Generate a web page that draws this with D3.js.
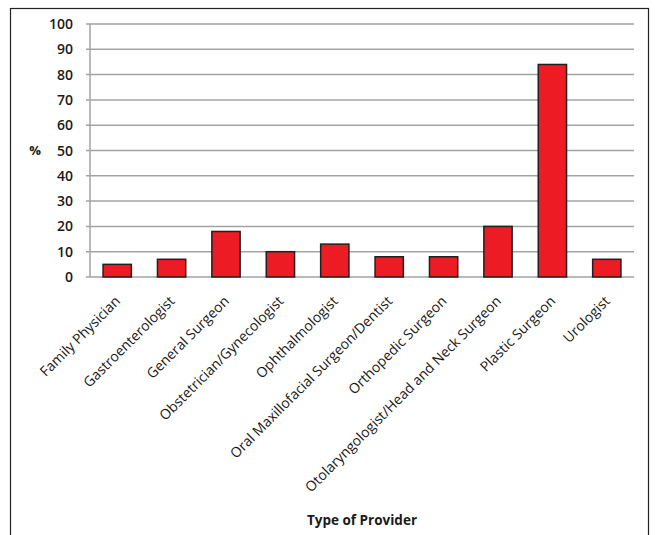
<!DOCTYPE html>
<html>
<head>
<meta charset="utf-8">
<script src="https://cdn.jsdelivr.net/npm/d3@7"></script>
<style>
  body { margin: 0; background: #fff; }
  text { font-family: "Open Sans", "Noto Sans", sans-serif; fill: #1a1a1a; }
</style>
</head>
<body>
<div id="container"></div>
<script>
// provider types and share (%)
var providers = ["Family Physician", "Gastroenterologist", "General Surgeon",
    "Obstetrician/Gynecologist", "Ophthalmologist", "Oral Maxillofacial Surgeon/Dentist",
    "Orthopedic Surgeon", "Otolaryngologist/Head and Neck Surgeon", "Plastic Surgeon", "Urologist"];
var percents = [5, 7, 18, 10, 13, 8, 8, 20, 84, 7];
var yTicks = [0, 10, 20, 30, 40, 50, 60, 70, 80, 90, 100];

var svg_width = 655,
    svg_height = 535;

// plot box (not "top": that name is taken by window.top)
var plot_left = 90, plot_right = 634, plot_top = 24, plot_bottom = 277;

var svg = d3.select("#container").append("svg")
    .attr("width", svg_width)
    .attr("height", svg_height)

// outer frame
svg.append("rect")
    .attr("x", 10.5).attr("y", 8.5)
    .attr("width", 638).attr("height", 540)
    .style("fill", "none")
    .style("stroke", "#222")
    .style("stroke-width", 1.2)

var x = d3.scaleBand()
    .domain(providers)
    .range([plot_left, plot_right])
    .paddingInner(0.48)
    .paddingOuter(0.24)

var y = d3.scaleLinear()
    .domain([0, 100])
    .range([plot_bottom, plot_top])

// gridlines
svg.append("g")
    .selectAll("line")
    .data(yTicks)
    .enter().append("line")
    .attr("x1", plot_left - 4)
    .attr("x2", plot_right)
    .attr("y1", d => y(d))
    .attr("y2", d => y(d))
    .style("stroke", "#a3a3a3")
    .style("stroke-width", 1.5)

// y axis line
svg.append("line")
    .attr("x1", plot_left).attr("x2", plot_left)
    .attr("y1", plot_top).attr("y2", plot_bottom)
    .style("stroke", "#a3a3a3")
    .style("stroke-width", 1.5)

svg.append("g")
    .selectAll("text")
    .data(yTicks)
    .enter().append("text")
    .attr("x", plot_left - 17)
    .attr("y", d => y(d))
    .attr("dy", "0.36em")
    .attr("text-anchor", "end")
    .style("font-size", "14px")
    .style("font-weight", 600)
    .text(d => d)

svg.append("text")
    .attr("x", 35)
    .attr("y", y(50))
    .attr("dy", "0.36em")
    .attr("text-anchor", "middle")
    .style("font-size", "13px")
    .style("font-weight", 700)
    .text("%")

// bars
svg.append("g")
    .selectAll("rect")
    .data(providers)
    .enter().append("rect")
    .attr("x", d => x(d))
    .attr("y", (d, i) => y(percents[i]))
    .attr("width", x.bandwidth())
    .attr("height", (d, i) => y(0) - y(percents[i]))
    .style("fill", "#ed1c24")
    .style("stroke", "#231f20")
    .style("stroke-width", 1.5)

// category labels, rotated
svg.append("g")
    .selectAll("text")
    .data(providers)
    .enter().append("text")
    .attr("transform", d => "translate(" + (x(d) + x.bandwidth() / 2 + 4) + "," + 302 + ") rotate(-45)")
    .attr("text-anchor", "end")
    .style("font-size", "14px")
    .text(d => d)

svg.append("text")
    .attr("x", (plot_left + plot_right) / 2)
    .attr("y", 525)
    .attr("text-anchor", "middle")
    .style("font-size", "13.5px")
    .style("font-weight", 700)
    .text("Type of Provider")
</script>
</body>
</html>
